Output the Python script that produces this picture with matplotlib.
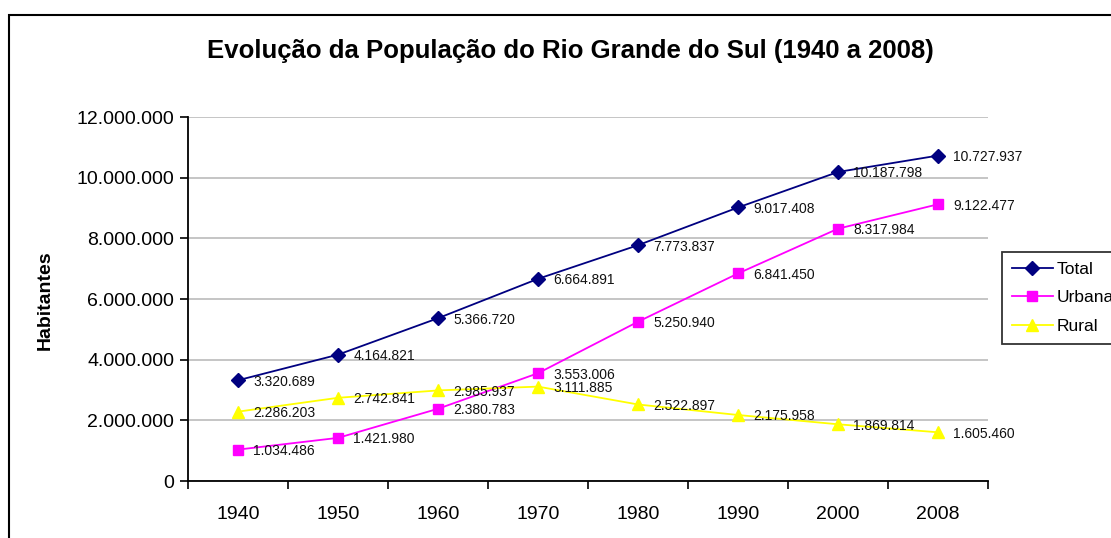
import matplotlib.pyplot as plt
from matplotlib.patches import Rectangle

plt.rcParams['font.family'] = ['Liberation Sans', 'DejaVu Sans']

# ----------------------------------------------------
# Data
# ----------------------------------------------------
anos = ["1940", "1950", "1960", "1970", "1980", "1990", "2000", "2008"]
total = [3320689, 4164821, 5366720, 6664891, 7773837, 9017408, 10187798, 10727937]
urbana = [1034486, 1421980, 2380783, 3553006, 5250940, 6841450, 8317984, 9122477]
rural = [2286203, 2742841, 2985937, 3111885, 2522897, 2175958, 1869814, 1605460]
y_ticks = [0, 2000000, 4000000, 6000000, 8000000, 10000000, 12000000]


def fmt(v):
    return f"{v:,}".replace(",", ".")


W, H = 1111, 538
fig = plt.figure(figsize=(W / 100, H / 100), dpi=100)
ax = fig.add_axes([188 / W, 57 / H, 800 / W, 364 / H])

# outer chart frame (cut off by the picture on right and bottom)
fig.patches.append(Rectangle((9 / W, -0.05), 1.1, 1 - 15 / H + 0.05,
                             transform=fig.transFigure, fill=False,
                             edgecolor="black", linewidth=1.5))

x = list(range(len(anos)))
series = [
    ("Total", total, "#000080", "D", 7),
    ("Urbana", urbana, "#FF00FF", "s", 7.5),
    ("Rural", rural, "#FFFF00", "^", 9),
]
for name, vals, col, mk, ms in series:
    ax.plot(x, vals, color=col, marker=mk, markersize=ms, linewidth=1.3,
            label=name, zorder=3)
    for xi, v in zip(x, vals):
        ax.annotate(fmt(v), (xi, v), xytext=(11, -1), textcoords="offset points",
                    fontsize=10, va="center", ha="left", color="#111111", zorder=4)

ax.set_xlim(-0.5, len(anos) - 0.5)
ax.set_ylim(0, 12000000)
ax.set_yticks(y_ticks)
ax.set_yticklabels([fmt(t) for t in y_ticks], fontsize=14)
ax.set_xticks(x)
ax.set_xticklabels(anos, fontsize=14)
ax.set_xticks([i - 0.5 for i in range(len(anos) + 1)], minor=True)
ax.tick_params(axis="x", which="major", length=0, pad=18)
ax.tick_params(axis="x", which="minor", length=6, width=1.2, direction="out")
ax.tick_params(axis="y", length=6, width=1.2, direction="out", pad=4)

ax.grid(axis="y", color="#C0C0C0", linewidth=1.3)
ax.set_axisbelow(True)
for s in ["top", "right"]:
    ax.spines[s].set_visible(False)
for s in ["left", "bottom"]:
    ax.spines[s].set_linewidth(1.3)

# y label and title placed in figure coords
fig.text(45 / W, 1 - 300 / H, "Habitantes", rotation=90, fontsize=14,
         fontweight="bold", ha="center", va="center")
fig.text(570 / W, 1 - 51 / H,
         "Evolução da População do Rio Grande do Sul (1940 a 2008)",
         fontsize=18.5, fontweight="bold", ha="center", va="center")

leg = fig.legend(loc="upper left", bbox_to_anchor=(1002 / W, 1 - 252 / H),
                 fontsize=12.5, frameon=True, fancybox=False, edgecolor="black",
                 handlelength=2.4, borderpad=0.55, labelspacing=0.78,
                 handletextpad=0.2, borderaxespad=0)
leg.get_frame().set_linewidth(1.3)

plt.savefig("out.png", dpi=100)
plt.close()
